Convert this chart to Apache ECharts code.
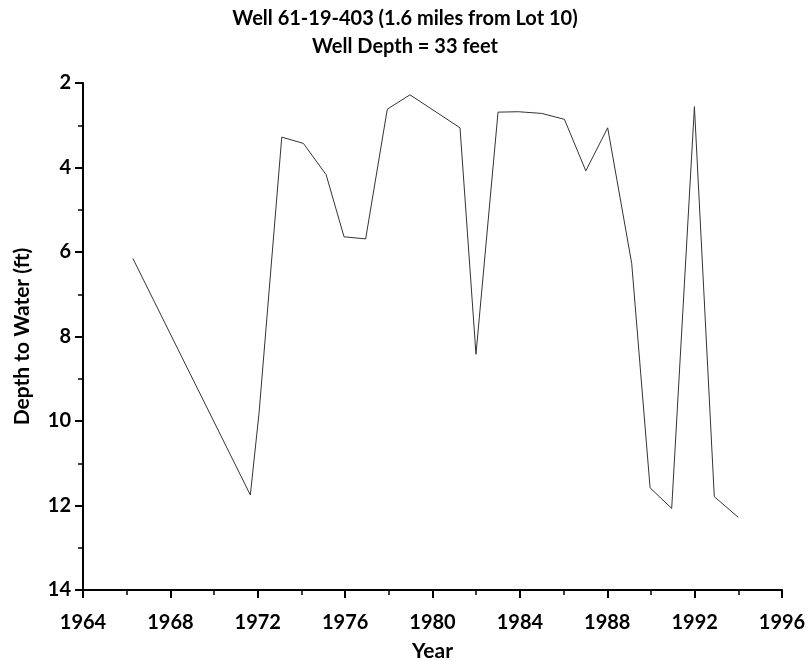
<!DOCTYPE html>
<html>
<head>
<meta charset="utf-8">
<script src="https://cdn.jsdelivr.net/npm/echarts@6/dist/echarts.min.js"></script>
<style>
  html, body { margin: 0; padding: 0; background: #fff; }
  #chart { width: 810px; height: 661px; }
</style>
</head>
<body>
<div id="chart"></div>
<script>
const years = [1966.28, 1971.66, 1972.06, 1973.1, 1974.09, 1975.13, 1975.95, 1976.94,
  1977.93, 1978.97, 1981.26, 1981.99, 1983.0, 1983.93, 1985.0, 1986.04, 1987.02,
  1988.02, 1989.12, 1989.96, 1990.95, 1991.99, 1992.9, 1994.0]
const depths = [6.15, 11.75, 9.81, 3.28, 3.43, 4.17, 5.64, 5.69,
  2.62, 2.28, 3.06, 8.42, 2.69, 2.68, 2.72, 2.86, 4.08,
  3.06, 6.27, 11.58, 12.07, 2.56, 11.79, 12.28]
const titleLines = ['Well 61-19-403 (1.6 miles from Lot 10)', 'Well Depth = 33 feet']

const font = 'Lato, "Open Sans", sans-serif'
let ch = echarts.init(document.getElementById('chart'))
let option = {
  animation: false,
  title: {
    text: titleLines.join('\n'),
    left: 'center',
    top: 0,
    textStyle: {
      fontFamily: font,
      fontWeight: 'bold',
      fontSize: 20,
      lineHeight: 28,
      color: '#000'
    }
  },
  grid: {
    left: 83,
    right: 28,
    top: 83,
    bottom: 71,
    outerBoundsMode: 'none'
  },
  xAxis: {
    type: 'value',
    min: 1964,
    max: 1996,
    interval: 4,
    name: 'Year',
    nameLocation: 'middle',
    nameGap: 51,
    nameTextStyle: { fontFamily: font, fontWeight: 'bold', fontSize: 21, color: '#000' },
    axisLine: { show: true, lineStyle: { color: '#000', width: 2 } },
    axisTick: { show: true, length: 8, lineStyle: { color: '#000', width: 2 } },
    minorTick: { show: true, splitNumber: 2, length: 5, lineStyle: { color: '#000', width: 1.5 } },
    splitLine: { show: false },
    axisLabel: {
      fontFamily: font, fontWeight: 'bold', fontSize: 20, color: '#000', margin: 23,
      formatter: v => String(v)
    }
  },
  yAxis: {
    type: 'value',
    inverse: true,
    min: 2,
    max: 14,
    interval: 2,
    name: 'Depth to Water (ft)',
    nameLocation: 'middle',
    nameGap: 50,
    nameTextStyle: { fontFamily: font, fontWeight: 'bold', fontSize: 21, color: '#000' },
    axisLine: { show: true, lineStyle: { color: '#000', width: 2 } },
    axisTick: { show: true, length: 8, lineStyle: { color: '#000', width: 2 } },
    minorTick: { show: true, splitNumber: 2, length: 5, lineStyle: { color: '#000', width: 1.5 } },
    splitLine: { show: false },
    axisLabel: { fontFamily: font, fontWeight: 'bold', fontSize: 20, color: '#000', margin: 12 }
  },
  series: [
    {
      type: 'line',
      data: years.map((y, i) => [y, depths[i]]),
      showSymbol: false,
      lineStyle: { color: '#333', width: 1 }
    }
  ]
}
ch.setOption(option)
</script>
</body>
</html>
